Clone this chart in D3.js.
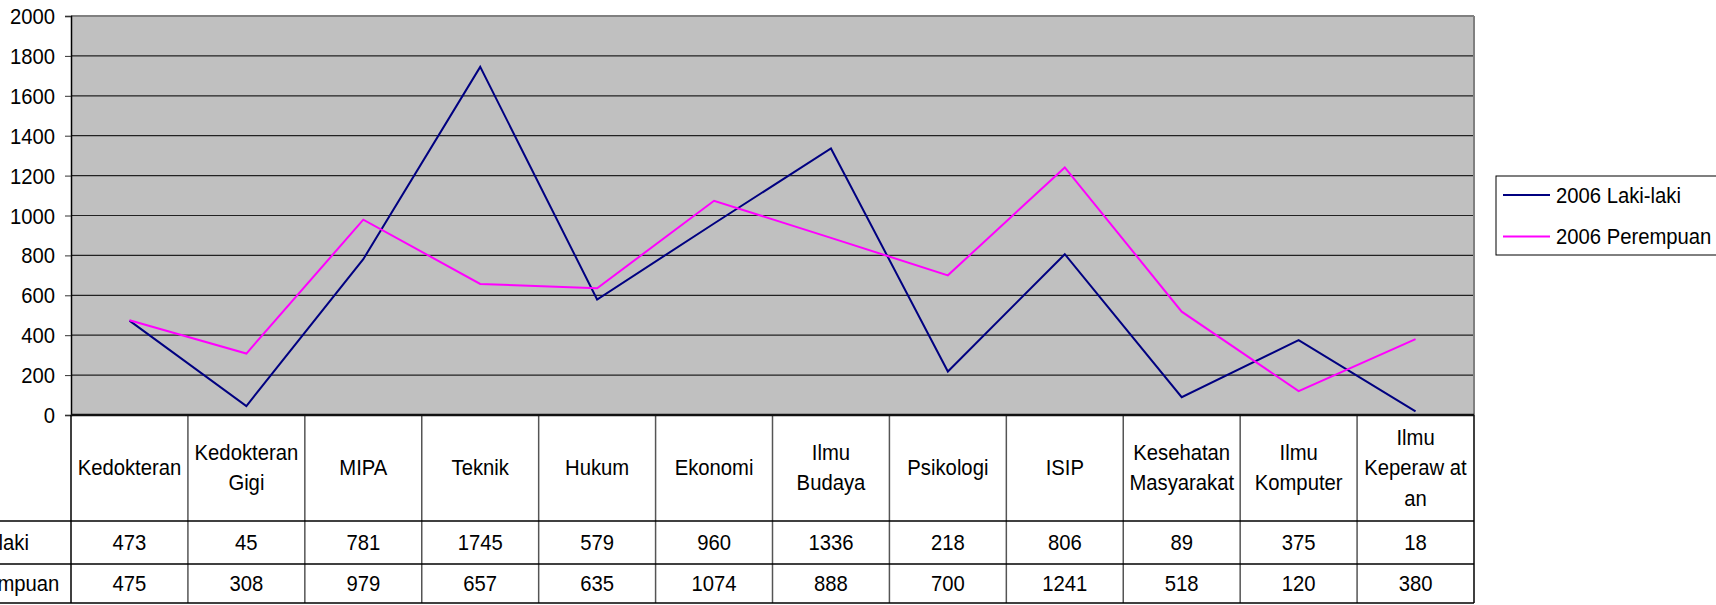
<!DOCTYPE html>
<html><head><meta charset="utf-8">
<script src="https://cdn.jsdelivr.net/npm/d3@7"></script>
<style>body{margin:0;background:#fff}svg{display:block}text{font-family:"Liberation Sans",Arial,sans-serif;fill:#000}</style>
</head><body><svg id="c" width="1716" height="605"></svg>
<script>
const categories = [["Kedokteran"],["Kedokteran","Gigi"],["MIPA"],["Teknik"],["Hukum"],["Ekonomi"],["Ilmu","Budaya"],["Psikologi"],["ISIP"],["Kesehatan","Masyarakat"],["Ilmu","Komputer"],["Ilmu","Keperaw at","an"]];
const lakiLaki = [473,45,781,1745,579,960,1336,218,806,89,375,18];
const perempuan = [475,308,979,657,635,1074,888,700,1241,518,120,380];
const seriesNames = ["2006 Laki-laki","2006 Perempuan"];
const yTicks = [0,200,400,600,800,1000,1200,1400,1600,1800,2000];

const svg = d3.select("#c");
const L = 71, R = 1474, T = 16, B = 415;
const rows = [521, 564, 603];
const fs = 21;
const SX = 0.965, SY = 1.07;
const x = d3.scaleBand().domain(d3.range(categories.length)).range([L, R]);
const y = d3.scaleLinear().domain([0, 2000]).range([B, T]);
const colors = ["#000080", "#FF00FF"];

function label(parent, px, py, str, anchor) {
  return parent.append("text")
    .attr("transform", `translate(${px},${py}) scale(${SX},${SY})`)
    .attr("text-anchor", anchor || "start").attr("font-size", fs).text(str);
}

// plot background
svg.append("rect").attr("x", L).attr("y", T).attr("width", R - L).attr("height", B - T).attr("fill", "#C0C0C0");
// gridlines
svg.append("g").selectAll("line").data(yTicks.filter(d => d > 0)).join("line")
  .attr("x1", L).attr("x2", R).attr("y1", d => y(d)).attr("y2", d => y(d))
  .attr("stroke", d => d === 2000 ? "#808080" : "#222").attr("stroke-width", d => d === 2000 ? 2 : 1.2);
// right border
svg.append("line").attr("x1", R).attr("x2", R).attr("y1", T).attr("y2", B).attr("stroke", "#808080").attr("stroke-width", 2);

// y axis
const yAxis = d3.axisLeft(y).tickValues(yTicks).tickSize(6).tickPadding(0).tickFormat(d3.format("d"));
const ga = svg.append("g").attr("transform", `translate(${L},0)`).call(yAxis);
ga.select(".domain").attr("stroke", "#000").attr("stroke-width", 1.5);
ga.selectAll(".tick line").attr("stroke", "#333");
ga.selectAll(".tick text").attr("x", 0).attr("dy", 0).attr("y", 0)
  .attr("transform", `translate(-16,7.5) scale(${SX},${SY})`)
  .attr("font-size", fs).attr("font-family", '"Liberation Sans",Arial,sans-serif').attr("fill", "#000");

// lines
const line = d3.line().x((d, i) => x(i) + x.bandwidth() / 2).y(d => y(d));
[lakiLaki, perempuan].forEach((s, k) => {
  svg.append("path").datum(s).attr("d", line).attr("fill", "none").attr("stroke", colors[k]).attr("stroke-width", 2).attr("stroke-linejoin", "miter");
});

// table
const tg = svg.append("g");
tg.selectAll("line.v").data(d3.range(1, categories.length)).join("line").attr("class", "v")
  .attr("x1", i => x(i)).attr("x2", i => x(i)).attr("y1", B).attr("y2", rows[2])
  .attr("stroke", "#555").attr("stroke-width", 1.5);
tg.append("line").attr("x1", L).attr("x2", L).attr("y1", B).attr("y2", rows[2]).attr("stroke", "#000").attr("stroke-width", 1.5);
tg.append("line").attr("x1", R).attr("x2", R).attr("y1", B).attr("y2", rows[2]).attr("stroke", "#000").attr("stroke-width", 1.5);
rows.forEach(ry => tg.append("line").attr("x1", 0).attr("x2", R).attr("y1", ry).attr("y2", ry).attr("stroke", "#000").attr("stroke-width", 1.3));
svg.append("line").attr("x1", L).attr("x2", R).attr("y1", B).attr("y2", B).attr("stroke", "#111").attr("stroke-width", 2.5);

// header labels
const hMid = (B + rows[0]) / 2;
const lh = 30.5;
categories.forEach((lines, i) => {
  const n = lines.length;
  lines.forEach((ln, j) => {
    label(tg, x(i) + x.bandwidth() / 2, hMid + 7 + (j - (n - 1) / 2) * lh, ln, "middle");
  });
});
// values
[lakiLaki, perempuan].forEach((s, k) => {
  const mid = (rows[k] + rows[k + 1]) / 2;
  s.forEach((d, i) => label(tg, x(i) + x.bandwidth() / 2, mid + 7.5, d, "middle"));
  label(tg, -96, mid + 7.5, seriesNames[k]);
});

// legend
const lg = svg.append("g");
lg.append("rect").attr("x", 1496).attr("y", 176).attr("width", 240).attr("height", 79).attr("fill", "#fff").attr("stroke", "#000").attr("stroke-width", 1);
seriesNames.forEach((nm, k) => {
  const ly = 195 + k * 41.5;
  lg.append("line").attr("x1", 1503).attr("x2", 1550).attr("y1", ly).attr("y2", ly).attr("stroke", colors[k]).attr("stroke-width", 2);
  label(lg, 1556, ly + 7.5, nm);
});
</script></body></html>
